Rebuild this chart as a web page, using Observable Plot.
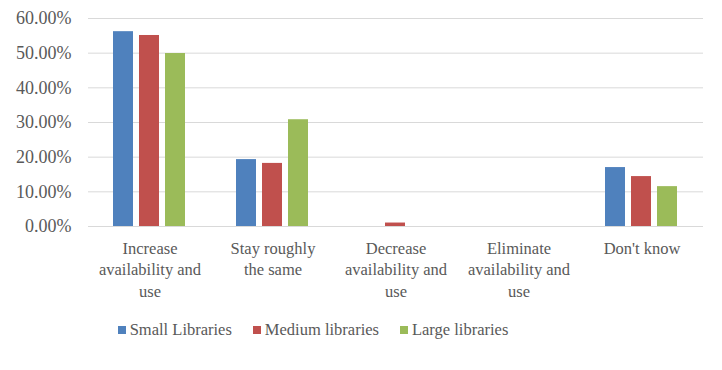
<!DOCTYPE html>
<html><head>
<meta charset="utf-8">
<script src="https://cdn.jsdelivr.net/npm/d3@7"></script>
<script src="https://cdn.jsdelivr.net/npm/@observablehq/plot@0.6"></script>
<style>
body{margin:0;background:#fff;font-family:"Liberation Serif",serif;}
#legend{display:flex;justify-content:center;gap:21px;padding-right:96px;margin-top:10px;line-height:20px;font-size:16.5px;color:#595959;}
#legend span.sw{display:inline-block;width:8px;height:8px;margin-right:4px;vertical-align:middle;position:relative;top:-1px;}
</style>
</head><body>
<div id="chart"></div>
<div id="legend"></div>
<script>
const categories = ["Increase\navailability and\nuse", "Stay roughly\nthe same", "Decrease\navailability and\nuse", "Eliminate\navailability and\nuse", "Don't know"];
const seriesNames = ["Small Libraries", "Medium libraries", "Large libraries"];
const small = [0.562, 0.193, 0, 0, 0.170];
const medium = [0.551, 0.182, 0.010, 0, 0.144];
const large = [0.499, 0.308, 0, 0, 0.115];
const colors = ["#4f81bd", "#c0504d", "#9bbb59"];
const yTicks = [0, 0.1, 0.2, 0.3, 0.4, 0.5, 0.6];

const seriesValues = [small, medium, large];
const data = [];
categories.forEach((c, i) => seriesNames.forEach((s, j) => data.push({category: c, series: s, value: seriesValues[j][i]})));

const chart = Plot.plot({
  width: 722,
  height: 310,
  marginLeft: 87,
  marginRight: 19,
  marginTop: 18,
  marginBottom: 84,
  style: {fontFamily: "Liberation Serif, serif", color: "#595959", background: "#fff"},
  fx: {domain: categories, padding: 0, label: null},
  x: {domain: seriesNames, paddingInner: 0.22, paddingOuter: 0.89, axis: null},
  y: {domain: [0, 0.6], ticks: yTicks, label: null},
  color: {domain: seriesNames, range: colors},
  marks: [
    Plot.gridY(yTicks, {stroke: "#d9d9d9", strokeOpacity: 1, strokeWidth: 1}),
    Plot.axisY(yTicks, {tickSize: 0, tickPadding: 17, tickFormat: d => (d * 100).toFixed(2) + "%", fontSize: 18, fill: "#595959", label: null}),
    Plot.axisFx({anchor: "bottom", tickSize: 0, tickPadding: 12, fontSize: 16.5, lineHeight: 1.3, fill: "#595959", label: null}),
    Plot.barY(data, {fx: "category", x: "series", y: "value", fill: "series"}),
    Plot.ruleY([0], {stroke: "#d9d9d9", strokeWidth: 1})
  ]
});
document.getElementById("chart").appendChild(chart);

const legend = document.getElementById("legend");
seriesNames.forEach((s, i) => {
  const item = document.createElement("div");
  const sw = document.createElement("span");
  sw.className = "sw";
  sw.style.background = colors[i];
  item.appendChild(sw);
  item.appendChild(document.createTextNode(s));
  legend.appendChild(item);
});
</script>
</body></html>
